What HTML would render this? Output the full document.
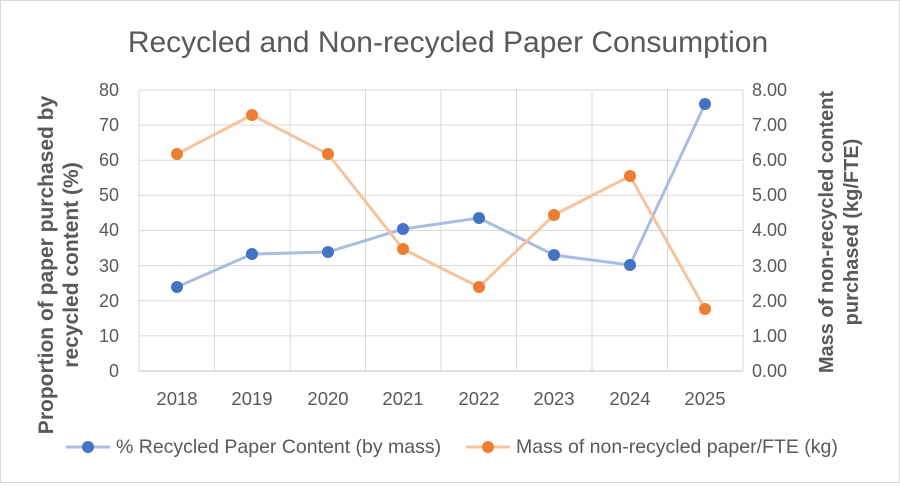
<!DOCTYPE html>
<html><head><style>
body{margin:0;background:#fff}
svg text{font-family:"Liberation Sans",sans-serif;fill:#595959}
</style></head><body>
<svg width="900" height="483" viewBox="0 0 900 483" xmlns="http://www.w3.org/2000/svg">
<rect x="0.5" y="0.5" width="899" height="482" fill="#fff" stroke="#d9d9d9"/>
<text x="448" y="52" font-size="30" text-anchor="middle">Recycled and Non-recycled Paper Consumption</text>
<g stroke="#d9d9d9" stroke-width="1">
<line x1="139" y1="90" x2="743" y2="90"/><line x1="139" y1="125.1" x2="743" y2="125.1"/>
<line x1="139" y1="160.3" x2="743" y2="160.3"/><line x1="139" y1="195.4" x2="743" y2="195.4"/>
<line x1="139" y1="230.5" x2="743" y2="230.5"/><line x1="139" y1="265.6" x2="743" y2="265.6"/>
<line x1="139" y1="300.8" x2="743" y2="300.8"/><line x1="139" y1="335.9" x2="743" y2="335.9"/>
<line x1="139" y1="90" x2="139" y2="371"/><line x1="214.5" y1="90" x2="214.5" y2="371"/>
<line x1="290" y1="90" x2="290" y2="371"/><line x1="365.5" y1="90" x2="365.5" y2="371"/>
<line x1="441" y1="90" x2="441" y2="371"/><line x1="516.5" y1="90" x2="516.5" y2="371"/>
<line x1="592" y1="90" x2="592" y2="371"/><line x1="667.5" y1="90" x2="667.5" y2="371"/>
<line x1="743" y1="90" x2="743" y2="371"/>
</g>
<line x1="139" y1="371" x2="743" y2="371" stroke="#bfbfbf"/>
<g font-size="18" text-anchor="end">
<text x="119" y="96">80</text><text x="119" y="131">70</text><text x="119" y="166">60</text>
<text x="119" y="201">50</text><text x="119" y="236">40</text><text x="119" y="272">30</text>
<text x="119" y="307">20</text><text x="119" y="342">10</text><text x="119" y="377">0</text>
</g>
<g font-size="18" text-anchor="start">
<text x="752" y="96">8.00</text><text x="752" y="131">7.00</text><text x="752" y="166">6.00</text>
<text x="752" y="201">5.00</text><text x="752" y="236">4.00</text><text x="752" y="272">3.00</text>
<text x="752" y="307">2.00</text><text x="752" y="342">1.00</text><text x="752" y="377">0.00</text>
</g>
<g font-size="18.5" text-anchor="middle">
<text x="177" y="405">2018</text><text x="252" y="405">2019</text><text x="328" y="405">2020</text>
<text x="403" y="405">2021</text><text x="479" y="405">2022</text><text x="554" y="405">2023</text>
<text x="630" y="405">2024</text><text x="705" y="405">2025</text>
</g>
<text transform="translate(53,265) rotate(-90)" font-size="21" font-weight="bold" text-anchor="middle">Proportion of paper purchased by</text>
<text transform="translate(78,265) rotate(-90)" font-size="21" font-weight="bold" text-anchor="middle">recycled content (%)</text>
<text transform="translate(833,232) rotate(-90)" font-size="20" font-weight="bold" text-anchor="middle">Mass of non-recycled content</text>
<text transform="translate(858,232) rotate(-90)" font-size="20" font-weight="bold" text-anchor="middle">purchased (kg/FTE)</text>
<polyline fill="none" stroke="#a9bde3" stroke-width="3" points="177,287 252,254 328,252 403,229 479,218 554,255 630,265 705,104"/>
<polyline fill="none" stroke="#f7c39d" stroke-width="3" points="177,154 252,115 328,154 403,249 479,287 554,215 630,176 705,309"/>
<g fill="#4472c4">
<circle cx="177" cy="287" r="6"/><circle cx="252" cy="254" r="6"/><circle cx="328" cy="252" r="6"/><circle cx="403" cy="229" r="6"/>
<circle cx="479" cy="218" r="6"/><circle cx="554" cy="255" r="6"/><circle cx="630" cy="265" r="6"/><circle cx="705" cy="104" r="6"/>
</g>
<g fill="#ed7d31">
<circle cx="177" cy="154" r="6"/><circle cx="252" cy="115" r="6"/><circle cx="328" cy="154" r="6"/><circle cx="403" cy="249" r="6"/>
<circle cx="479" cy="287" r="6"/><circle cx="554" cy="215" r="6"/><circle cx="630" cy="176" r="6"/><circle cx="705" cy="309" r="6"/>
</g>
<line x1="66" y1="447" x2="110" y2="447" stroke="#a9bde3" stroke-width="3"/>
<circle cx="88" cy="447" r="6" fill="#4472c4"/>
<text x="116" y="453" font-size="19.5">% Recycled Paper Content (by mass)</text>
<line x1="466" y1="447" x2="510" y2="447" stroke="#f7c39d" stroke-width="3"/>
<circle cx="488" cy="447" r="6" fill="#ed7d31"/>
<text x="516" y="453" font-size="19.5">Mass of non-recycled paper/FTE (kg)</text>
</svg>
</body></html>
